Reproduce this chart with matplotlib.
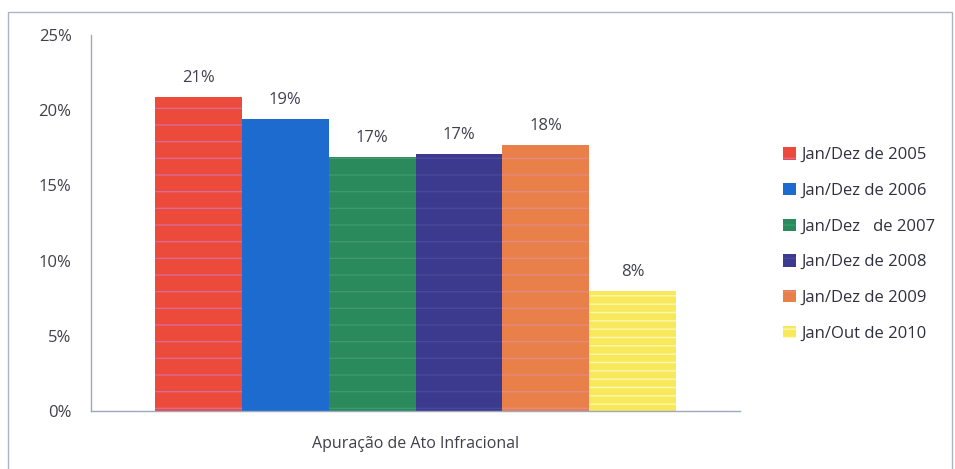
import matplotlib.pyplot as plt
from matplotlib.patches import Rectangle

plt.rcParams['font.family'] = ['Open Sans', 'DejaVu Sans']

series = ['Jan/Dez de 2005', 'Jan/Dez de 2006', 'Jan/Dez   de 2007',
          'Jan/Dez de 2008', 'Jan/Dez de 2009', 'Jan/Out de 2010']
values = [0.209, 0.194, 0.169, 0.171, 0.177, 0.080]
category = 'Apuração de Ato Infracional'
colors = ['#EC4A3A', '#1E6BD0', '#2B8A5C', '#3C3A8E', '#EA8049', '#F8E95C']
stripes = ['#D96A9A', '#3F7BD8', '#3C9A6C', '#4A4898', '#E28A80', '#FFF8B0']
hatches = ['-', '', '-', '-', '-', '--']

fig = plt.figure(figsize=(9.55, 4.69), dpi=100)
fig.patches.append(Rectangle((8 / 955, -0.01), 944 / 955, 1 - 12 / 469 + 0.01,
                             transform=fig.transFigure, fill=False,
                             edgecolor='#A9B4C6', linewidth=1))
ax = fig.add_axes([91 / 955, 1 - 411 / 469, (740 - 91) / 955, (411 - 35) / 469])

width = 0.134
n = len(values)
for i, (v, c) in enumerate(zip(values, colors)):
    x = (i - (n - 1) / 2) * width
    ax.bar(x, v, width, color=c, edgecolor=stripes[i], linewidth=0,
           hatch=hatches[i], label=series[i])
    ax.annotate(f'{v:.0%}', (x, v), xytext=(0, 8), textcoords='offset points',
                ha='center', va='bottom', fontsize=12, color='#404050')

ax.set_xlim(-0.5, 0.5)
ax.set_ylim(0, 0.25)
ax.set_yticks([0, 0.05, 0.10, 0.15, 0.20, 0.25])
ax.set_yticklabels(['0%', '5%', '10%', '15%', '20%', '25%'])
ax.set_xticks([0])
ax.set_xticklabels([category])
ax.tick_params(axis='y', length=0, pad=14, labelsize=12, labelcolor='#404048')
ax.tick_params(axis='x', length=0, pad=18, labelsize=11.5, labelcolor='#404048')
for side in ['top', 'right']:
    ax.spines[side].set_visible(False)
for side in ['left', 'bottom']:
    ax.spines[side].set_color('#9DA8BC')
    ax.spines[side].set_linewidth(1)

leg = fig.legend(loc='upper left', bbox_to_anchor=(775 / 955, 1 - 139 / 469),
                 frameon=False, fontsize=12, labelspacing=1.18,
                 handlelength=0.75, handleheight=0.75, handletextpad=0.35,
                 borderpad=0, labelcolor='#303040')

fig.savefig('out.png', dpi=100)
